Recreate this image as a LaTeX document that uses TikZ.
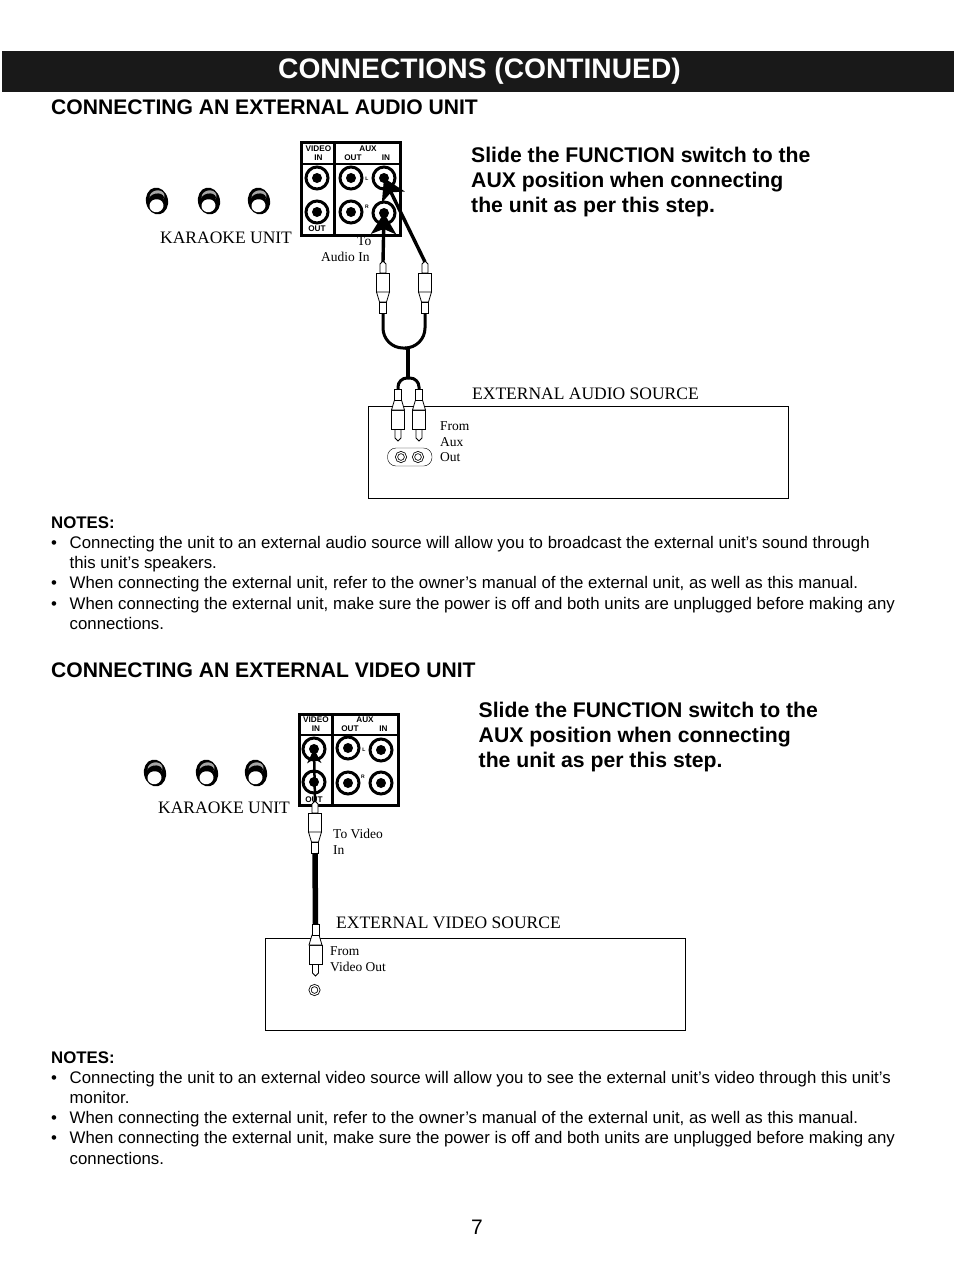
\documentclass[tikz,border=0pt]{standalone}
\usepackage{fontspec}
\setmainfont{Liberation Serif}
\setsansfont{Liberation Sans}
\usetikzlibrary{positioning, arrows.meta, calc}

\tikzset{
    plug/.pic={
        % tip on top, tail below
        \filldraw[fill=white, draw=black, thick] (-3,11) -- (-3,2) -- (0,-1) -- (3,2) -- (3,11) -- cycle;
        \filldraw[fill=white, draw=black, thick] (-6.5,11) rectangle (6.5,30);
        \filldraw[fill=white, draw=black, thick] (-6.5,30) -- (-3.5,40) -- (3.5,40) -- (6.5,30) -- cycle;
        \filldraw[fill=white, draw=black, thick] (-3.5,40) rectangle (3.5,51);
        \coordinate (-tip) at (0,0);
        \coordinate (-tail) at (0,51);
    },
    knob/.pic={
        \fill[black, rotate=12] (0,0) ellipse (11 and 13.5);
        \fill[white!65!black, rotate=12] (1,-4.5) ellipse (7.5 and 6);
        \fill[black, rotate=12] (0,-2.5) ellipse (7.5 and 5);
        \fill[white, rotate=12] (-1.5,4.5) ellipse (7 and 6.5);
    }
}

\begin{document}
\begin{tikzpicture}[
    x=1pt, y=-1pt,
    font=\rmfamily,
    >={Stealth},
    % text styles
    heading/.style={anchor=base west, inner sep=0pt, font=\sffamily\bfseries\fontsize{21.1}{24}\selectfont},
    notehead/.style={anchor=base west, inner sep=0pt, font=\sffamily\bfseries\fontsize{16.8}{20}\selectfont},
    step text/.style={anchor=base west, inner sep=0pt, font=\sffamily\bfseries\fontsize{21.2}{25}\selectfont},
    bodytext/.style={anchor=base west, inner sep=0pt, font=\sffamily\fontsize{16.8}{20}\selectfont},
    unitlabel/.style={anchor=base west, inner sep=0pt, font=\fontsize{17.5}{20}\selectfont},
    smalllabel/.style={anchor=base west, inner sep=0pt, font=\fontsize{13.5}{15}\selectfont},
    paneltext/.style={inner sep=0pt, font=\sffamily\bfseries\fontsize{8.2}{9}\selectfont},
    tinytext/.style={inner sep=0pt, font=\sffamily\bfseries\fontsize{5}{6}\selectfont},
    % parts of the drawing
    jack/.style={circle, draw=black, line width=3pt, minimum size=22pt, inner sep=0pt,
        path picture={\fill[black] (path picture bounding box.center) circle (5pt);}},
    socket/.style={circle, draw=black, double=white, line width=0.8pt, double distance=1.2pt, fill=white, minimum size=9pt, inner sep=0pt},
    panel/.style={draw=black, line width=3pt, fill=white},
    unitbox/.style={draw=black, line width=0.9pt, fill=none},
    cable/.style={draw=black, line width=3pt, rounded corners=20pt},
    lead/.style={draw=black, line width=3.4pt, -{Stealth[length=21pt, width=25pt, inset=5pt]}}
]
\useasboundingbox (0,0) rectangle (954,1272);

% ==========================================
% title bar
% ==========================================
\fill[black!90] (2,51) rectangle (954,92);
\node[anchor=base, inner sep=0pt, text=white, font=\sffamily\bfseries\fontsize{28.2}{32}\selectfont] (title) at (479.5,78) {CONNECTIONS (CONTINUED)};

% ==========================================
% audio unit
% ==========================================
\node[heading] (audiohead) at (51,114) {CONNECTING AN EXTERNAL AUDIO UNIT};

\foreach \y/\t [count=\i] in {162/{Slide the FUNCTION switch to the}, 187/{AUX position when connecting}, 212/{the unit as per this step.}}
    \node[step text] (audiostep\i) at (471,\y) {\t};

% karaoke knobs
\pic at (157,201) {knob};
\pic at (209,201) {knob};
\pic at (259,201) {knob};
\node[unitlabel] (audiokaraoke) at (160,243) {KARAOKE UNIT};

% panel
\draw[panel] (301,142) rectangle (400,235);
\draw[line width=3pt] (334,142) -- (334,235);
\draw[line width=2pt] (301,164) -- (400,164);
\node[paneltext] (avid) at (318.5,148.5) {VIDEO};
\node[paneltext] (avin) at (318.5,158) {IN};
\node[paneltext] (aaux) at (368,148.5) {AUX};
\node[paneltext] (aout) at (353,158) {OUT};
\node[paneltext] (ain) at (386,158) {IN};
\node[paneltext] (avout) at (317,229) {OUT};
\node[tinytext] (al) at (367,179) {L};
\node[tinytext] (ar) at (367,207) {R};

\node[jack] (jvin) at (317,178) {};
\node[jack] (jvout) at (317,212) {};
\node[jack] (joutl) at (351,178) {};
\node[jack] (joutr) at (351,212) {};
\node[jack] (jinl) at (384,178) {};
\node[jack] (jinr) at (384,213) {};

\node[smalllabel] (audioto) at (357,245) {To};
\node[smalllabel] (audioin) at (321,261) {Audio In};

% external box
\node[unitlabel] (audiosrc) at (472,399) {EXTERNAL AUDIO SOURCE};
\draw[unitbox] (368,406) rectangle (788,498);
\foreach \y/\t [count=\i] in {430/From, 446/Aux, 461/Out}
    \node[smalllabel] (audiofrom\i) at (440,\y) {\t};
\draw[thin, rounded corners=8.5pt] (387.5,448) rectangle (432,466);
\node[socket] (souta) at (401,457) {};
\node[socket] (soutb) at (418,457) {};

% plugs and cable
\pic (pa) at (383,262) {plug};
\pic (pb) at (425,262) {plug};
\pic[yscale=-1] (pc) at (398,440) {plug};
\pic[yscale=-1] (pd) at (419,440) {plug};
\coordinate (jtop) at (406,348);
\coordinate (jbot) at (408,378);
\draw[cable] (pa-tail) |- (jtop);
\draw[cable] (pb-tail) |- (jtop);
\draw[line width=4pt] (408,348) -- (jbot);
\draw[cable, rounded corners=9pt] (pc-tail) |- (jbot);
\draw[cable, rounded corners=9pt] (pd-tail) |- (jbot);
\draw[lead] (pa-tip) -- (jinr.center);
\draw[lead] (pb-tip) -- (jinl.center);

% ==========================================
% audio notes
% ==========================================
\node[notehead] (audionotes) at (51,528) {NOTES:};
\foreach \y in {548.5,588.5,609.5}
    \node[bodytext] at (51,\y) {•};
\foreach \y/\t [count=\i] in {
    548.5/{Connecting the unit to an external audio source will allow you to broadcast the external unit’s sound through},
    568.5/{this unit’s speakers.},
    588.5/{When connecting the external unit, refer to the owner’s manual of the external unit, as well as this manual.},
    609.5/{When connecting the external unit, make sure the power is off and both units are unplugged before making any},
    629.5/{connections.}}
    \node[bodytext] (audionote\i) at (69.5,\y) {\t};

% ==========================================
% video unit
% ==========================================
\node[heading] (videohead) at (51,677) {CONNECTING AN EXTERNAL VIDEO UNIT};

\foreach \y/\t [count=\i] in {717/{Slide the FUNCTION switch to the}, 742/{AUX position when connecting}, 767/{the unit as per this step.}}
    \node[step text] (videostep\i) at (478.5,\y) {\t};

\pic at (155,773) {knob};
\pic at (207,773) {knob};
\pic at (256,773) {knob};
\node[unitlabel] (videokaraoke) at (158,813) {KARAOKE UNIT};

% panel
\draw[panel] (299,714) rectangle (398,805);
\draw[line width=3pt] (332,714) -- (332,805);
\draw[line width=2pt] (299,735) -- (398,735);
\node[paneltext] (bvid) at (316,719.5) {VIDEO};
\node[paneltext] (bvin) at (316,729) {IN};
\node[paneltext] (baux) at (365,719.5) {AUX};
\node[paneltext] (bout) at (350,729) {OUT};
\node[paneltext] (bin) at (383.5,729) {IN};
\node[paneltext] (bvout) at (314,800) {OUT};
\node[tinytext] (bl) at (364,750) {L};
\node[tinytext] (br) at (363,777) {R};

\node[jack] (kvin) at (314,749) {};
\node[jack] (kvout) at (314,782) {};
\node[jack] (koutl) at (348,748) {};
\node[jack] (koutr) at (348,783) {};
\node[jack] (kinl) at (381,750) {};
\node[jack] (kinr) at (381,783) {};

\node[smalllabel] (videoto) at (333,838) {To Video};
\node[smalllabel] (videoin) at (333,854) {In};

% external box
\node[unitlabel] (videosrc) at (336,928) {EXTERNAL VIDEO SOURCE};
\draw[unitbox] (265,938) rectangle (685,1030);
\node[smalllabel] (videofrom) at (330,955) {From};
\node[smalllabel] (videoout) at (330,971) {Video Out};
\node[socket] (soutv) at (314.5,990) {};

% plugs and cable
\pic (pe) at (315,802) {plug};
\pic[yscale=-1] (pf) at (315.5,975) {plug};
\draw[draw=black, line width=5.5pt] (pe-tail) -- (pf-tail);
\draw[draw=black, line width=2.5pt, -{Stealth[length=14pt, width=14pt, inset=4pt]}] (pe-tip) -- (kvin.center);

% ==========================================
% video notes
% ==========================================
\node[notehead] (videonotes) at (51,1063) {NOTES:};
\foreach \y in {1083,1123,1143}
    \node[bodytext] at (51,\y) {•};
\foreach \y/\t [count=\i] in {
    1083/{Connecting the unit to an external video source will allow you to see the external unit’s video through this unit’s},
    1103/{monitor.},
    1123/{When connecting the external unit, refer to the owner’s manual of the external unit, as well as this manual.},
    1143/{When connecting the external unit, make sure the power is off and both units are unplugged before making any},
    1164/{connections.}}
    \node[bodytext] (videonote\i) at (69.5,\y) {\t};

\node[anchor=base, inner sep=0pt, font=\sffamily\fontsize{21}{24}\selectfont] (pageno) at (477,1234) {7};
\end{tikzpicture}
\end{document}
